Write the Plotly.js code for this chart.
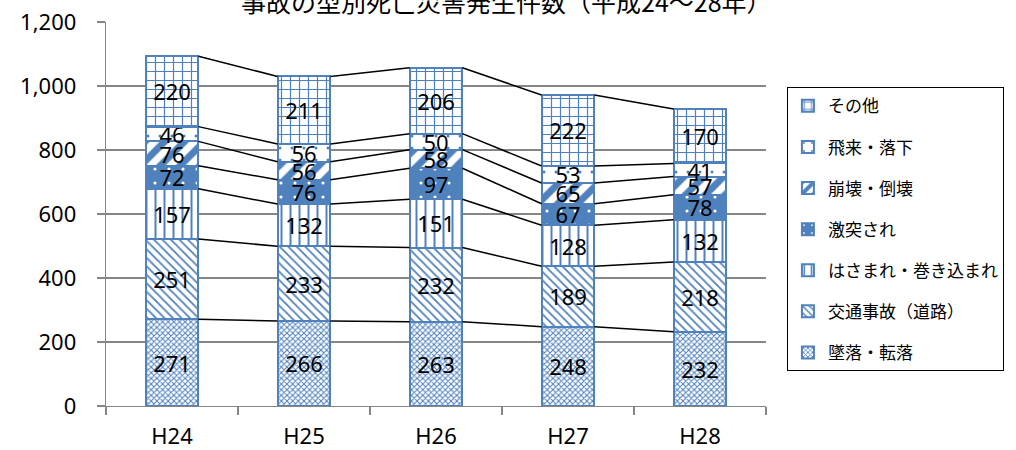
<!DOCTYPE html>
<html>
<head>
<meta charset="utf-8">
<script src="https://cdn.plot.ly/plotly-3.0.1.min.js"></script>
<style>
  html, body { margin: 0; padding: 0; background: #ffffff; }
  #chart { width: 1016px; height: 450px; }
</style>
</head>
<body>
<div id="chart"></div>
<script>
// 事故の型別死亡災害発生件数（平成24～28年）
const years = ['H24', 'H25', 'H26', 'H27', 'H28'];

// Series, bottom of the stack first
const fall      = [271, 266, 263, 248, 232];   // 墜落・転落
const traffic   = [251, 233, 232, 189, 218];   // 交通事故（道路）
const caught    = [157, 132, 151, 128, 132];   // はさまれ・巻き込まれ
const struck    = [72, 76, 97, 67, 78];        // 激突され
const collapse  = [76, 56, 58, 65, 57];        // 崩壊・倒壊
const flying    = [46, 56, 50, 53, 41];        // 飛来・落下
const other     = [220, 211, 206, 222, 170];   // その他

const seriesNames = ['墜落・転落', '交通事故（道路）', 'はさまれ・巻き込まれ', '激突され', '崩壊・倒壊', '飛来・落下', 'その他'];
const seriesValues = [fall, traffic, caught, struck, collapse, flying, other];

const yTicks = [0, 200, 400, 600, 800, 1000, 1200];

const BLUE = '#4f81bd';
const patterns = [
  { shape: 'x', fgcolor: BLUE, bgcolor: '#ffffff', size: 4, solidity: 0.45, fillmode: 'replace' },
  { shape: '\\', fgcolor: BLUE, bgcolor: '#ffffff', size: 6, solidity: 0.3, fillmode: 'replace' },
  { shape: '|', fgcolor: BLUE, bgcolor: '#ffffff', size: 9, solidity: 0.22, fillmode: 'replace' },
  { shape: '.', fgcolor: '#ffffff', bgcolor: BLUE, size: 14, solidity: 0.04, fillmode: 'replace' },
  { shape: '/', fgcolor: BLUE, bgcolor: '#ffffff', size: 14, solidity: 0.5, fillmode: 'replace' },
  { shape: '.', fgcolor: BLUE, bgcolor: '#ffffff', size: 12, solidity: 0.05, fillmode: 'replace' },
  { shape: '+', fgcolor: BLUE, bgcolor: '#ffffff', size: 9, solidity: 0.25, fillmode: 'replace' }
];

const NUM_FONT = '"Noto Sans", sans-serif';
const xIdx = years.map((_, i) => i);
const BAR_W = 0.4;

const traces = [];
seriesValues.forEach((vals, k) => {
  traces.push({
    type: 'bar',
    name: seriesNames[k],
    legendgroup: 'g' + k,
    legendrank: 1000 - k * 10,
    x: xIdx,
    y: vals,
    width: BAR_W,
    marker: { color: BLUE, line: { color: BLUE, width: 2 }, pattern: patterns[k] },
    text: vals.map(String),
    textposition: 'inside',
    insidetextanchor: 'middle',
    textangle: 0,
    textfont: { family: NUM_FONT, size: 22, color: '#000000' },
    constraintext: 'none',
    cliponaxis: false,
    hoverinfo: 'skip'
  });
});

// Series lines joining the top of each stacked segment between neighbouring bars
const cum = [];
seriesValues.forEach((vals, k) => {
  cum.push(vals.map((v, i) => v + (k > 0 ? cum[k - 1][i] : 0)));
});
cum.forEach(level => {
  const lx = [], ly = [];
  for (let i = 0; i < years.length - 1; i++) {
    lx.push(i + BAR_W / 2, i + 1 - BAR_W / 2, null);
    ly.push(level[i], level[i + 1], null);
  }
  traces.push({
    type: 'scatter', mode: 'lines', x: lx, y: ly,
    line: { color: '#000000', width: 1.5 },
    showlegend: false, hoverinfo: 'skip', cliponaxis: false
  });
});

const layout = {
  width: 1016,
  height: 450,
  margin: { l: 106, r: 247, t: 22, b: 44 },
  paper_bgcolor: '#ffffff',
  plot_bgcolor: '#ffffff',
  barmode: 'stack',
  showlegend: true,
  uniformtext: { mode: 'show', minsize: 22 },
  font: { family: NUM_FONT, color: '#000000' },
  xaxis: {
    range: [-0.5, years.length - 0.5],
    tickmode: 'array',
    tickvals: xIdx,
    ticktext: years,
    ticks: '',
    showgrid: false,
    zeroline: false,
    showline: true,
    linecolor: '#868686',
    linewidth: 1.3,
    tickfont: { family: NUM_FONT, size: 22, color: '#000000' },
    ticklabelstandoff: 10,
    minor: { tick0: -0.5, dtick: 1, ticks: 'outside', ticklen: 8, tickcolor: '#868686', tickwidth: 1.3, showgrid: false }
  },
  yaxis: {
    range: [0, 1200],
    tickmode: 'array',
    tickvals: yTicks,
    ticktext: yTicks.map(v => v.toLocaleString('en-US')),
    ticks: 'outside',
    ticklen: 8,
    tickcolor: '#868686',
    tickwidth: 1.3,
    showgrid: true,
    gridcolor: '#868686',
    gridwidth: 1.3,
    zeroline: false,
    showline: true,
    linecolor: '#868686',
    linewidth: 1.3,
    tickfont: { family: NUM_FONT, size: 22, color: '#000000' },
    ticklabelstandoff: 16
  },
  legend: {
    x: 1.0317,
    xanchor: 'left',
    y: 0.83,
    yanchor: 'top',
    traceorder: 'grouped',
    tracegroupgap: 16,
    bordercolor: '#000000',
    borderwidth: 1,
    bgcolor: '#ffffff',
    font: { family: '"Noto Sans CJK JP", sans-serif', size: 17, color: '#000000' }
  },
  annotations: [{
    text: '事故の型別死亡災害発生件数（平成24～28年）',
    xref: 'paper', yref: 'paper',
    x: 0.607, y: 1.055,
    xanchor: 'center', yanchor: 'middle',
    showarrow: false,
    font: { family: '"Noto Sans CJK JP", sans-serif', size: 25, color: '#000000' }
  }]
};

Plotly.newPlot('chart', traces, layout, { staticPlot: true, displayModeBar: false });
</script>
</body>
</html>
